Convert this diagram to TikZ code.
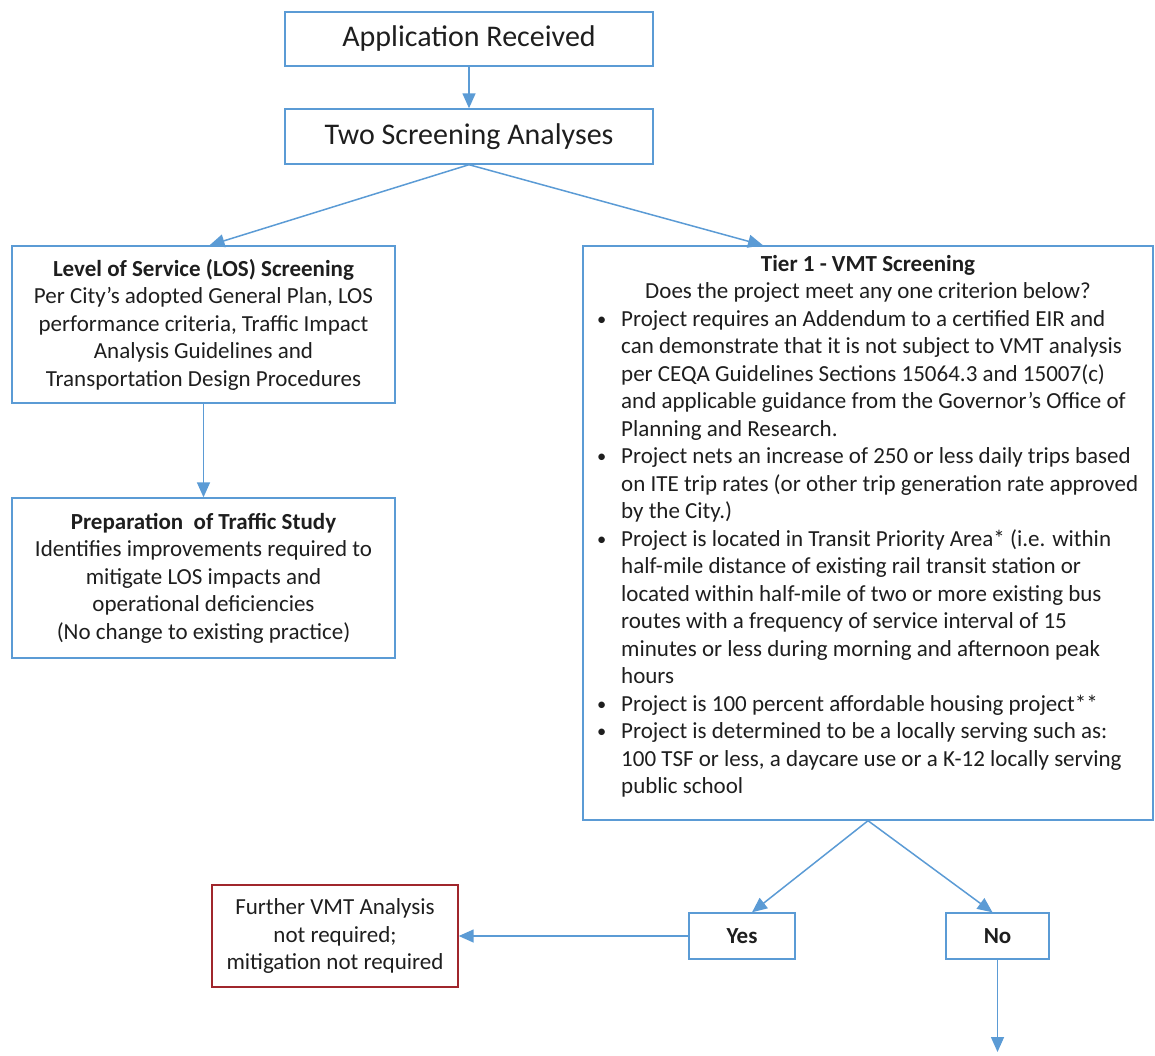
\documentclass[tikz,border=0pt]{standalone}
\usepackage{fontspec}
\setmainfont{Carlito}
\usetikzlibrary{arrows.meta}
\definecolor{boxblue}{RGB}{91,155,213}
\definecolor{boxred}{RGB}{160,38,44}
\definecolor{txtc}{RGB}{30,30,30}
\newcommand\tierbul{\makebox[0pt][r]{\raisebox{1pt}{\scalebox{0.8}{\textbullet}}\hspace{15pt}}}
\begin{document}
\begin{tikzpicture}[x=1pt,y=-1pt,
  box/.style={draw=boxblue, line width=1.4pt, inner sep=0pt, align=center, text=txtc},
  redbox/.style={draw=boxred, line width=1.4pt, inner sep=0pt, align=center, text=txtc},
  body/.style={font=\fontsize{23}{27.5}\selectfont},
  ttl/.style={font=\fontsize{30}{36}\selectfont},
  conn/.style={draw=boxblue, line width=1.5pt, -{Triangle[length=15pt,width=13pt]}},
  plain/.style={inner sep=0pt, text=txtc}
]
\useasboundingbox (0,0) rectangle (1155,1055);

\node[box, ttl, minimum width=368pt, minimum height=54pt] (app) at (469,39) {Application Received};
\node[box, ttl, minimum width=368pt, minimum height=55pt] (two) at (469,136.5) {Two Screening Analyses};

\node[box, body, minimum width=383pt, minimum height=157pt] (los) at (203.5,324.5)
  {\textbf{Level of Service (LOS) Screening}\\
   Per City’s adopted General Plan, LOS\\
   performance criteria, Traffic Impact\\
   Analysis Guidelines and\\
   Transportation Design Procedures};

\node[box, body, minimum width=383pt, minimum height=160pt] (study) at (203.5,578)
  {\textbf{Preparation\ \ of Traffic Study}\\
   Identifies improvements required to\\
   mitigate LOS impacts and\\
   operational deficiencies\\
   (No change to existing practice)};

\node[box, minimum width=570pt, minimum height=574pt] (tier) at (868,533) {};
\node[plain, body, align=center, anchor=north] (tierhead) at (868,251.75)
  {\strut\textbf{Tier 1 - VMT Screening}\\
   Does the project meet any one criterion below?};
\node[plain, body, align=left, anchor=north west] (tierlist) at (621,306.75)
  {\strut\tierbul Project requires an Addendum to a certified EIR and\\
   can demonstrate that it is not subject to VMT analysis\\
   per CEQA Guidelines Sections 15064.3 and 15007(c)\\
   and applicable guidance from the Governor's Office of\\
   Planning and Research.\\
   \tierbul Project nets an increase of 250 or less daily trips based\\
   on ITE trip rates (or other trip generation rate approved\\
   by the City.)\\
   \tierbul Project is located in Transit Priority Area* (i.e. within\\
   half-mile distance of existing rail transit station or\\
   located within half-mile of two or more existing bus\\
   routes with a frequency of service interval of 15\\
   minutes or less during morning and afternoon peak\\
   hours\\
   \tierbul Project is 100 percent affordable housing project**\\
   \tierbul Project is determined to be a locally serving such as:\\
   100 TSF or less, a daycare use or a K-12 locally serving\\
   public school};

\node[box, body, minimum width=106pt, minimum height=46pt] (yes) at (742,936) {\textbf{Yes}};
\node[box, body, minimum width=103pt, minimum height=46pt] (no) at (997.5,936) {\textbf{No}};
\node[redbox, body, minimum width=246pt, minimum height=102pt] (further) at (335,936)
  {Further VMT Analysis\\ not required;\\ mitigation not required};
\coordinate (noend) at (997.5,1052);

\draw[conn] (app.south) -- (two.north);
\draw[conn] (two.south) -- ([xshift=6pt]los.north);
\draw[conn] (two.south) -- ([xshift=-105pt]tier.north);
\draw[conn] (los.south) -- (study.north);
\draw[conn] (tier.south) -- ([xshift=10pt]yes.north);
\draw[conn] (tier.south) -- ([xshift=-5pt]no.north);
\draw[conn] (yes.west) -- (further.east);
\draw[conn] (no.south) -- (noend);
\end{tikzpicture}
\end{document}
